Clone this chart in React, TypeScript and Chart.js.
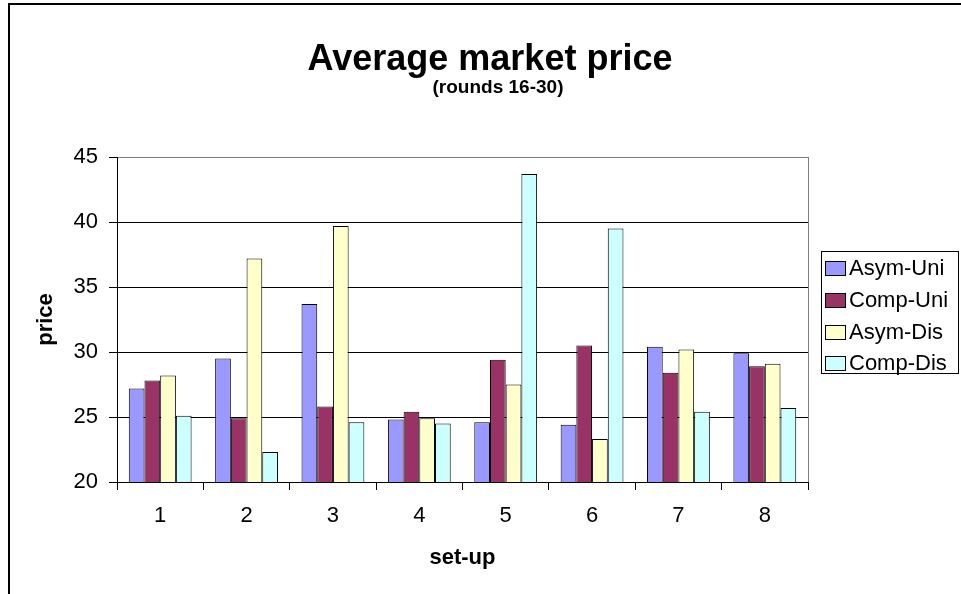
import { useEffect, useRef } from "react";
import { Chart, registerables } from "chart.js";

Chart.register(...registerables);

// Set-up numbers along the x axis
const setups = ["1", "2", "3", "4", "5", "6", "7", "8"];

// Average market price per treatment (rounds 16-30)
const asymUni = [27.2, 29.5, 33.7, 24.8, 24.6, 24.4, 30.4, 29.9];
const compUni = [27.8, 24.9, 25.8, 25.4, 29.4, 30.5, 28.4, 28.9];
const asymDis = [28.2, 37.2, 39.7, 24.9, 27.5, 23.3, 30.2, 29.1];
const compDis = [25.1, 22.3, 24.6, 24.5, 43.7, 39.5, 25.4, 25.7];

// Price axis tick values
const priceTicks = [20, 25, 30, 35, 40, 45];

const seriesNames = ["Asym-Uni", "Comp-Uni", "Asym-Dis", "Comp-Dis"];
const seriesColors = ["#9999FF", "#993366", "#FFFFCC", "#CCFFFF"];

const FONT = '"Liberation Sans", Arial, Helvetica, sans-serif';

// Frame, titles and boxed legend drawn around the plot
const framePlugin = {
  id: "frame",
  beforeDraw(chart: any) {
    const { ctx, width, height } = chart;
    ctx.save();
    ctx.fillStyle = "#ffffff";
    ctx.fillRect(0, 0, width, height);
    ctx.strokeStyle = "#000000";
    ctx.lineWidth = 2;
    ctx.beginPath();
    ctx.moveTo(9, height + 2);
    ctx.lineTo(9, 4);
    ctx.lineTo(width + 2, 4);
    ctx.stroke();
    ctx.restore();
  },
  beforeDatasetsDraw(chart: any) {
    const { ctx, chartArea } = chart;
    ctx.save();
    ctx.strokeStyle = "#808080";
    ctx.lineWidth = 1;
    ctx.beginPath();
    const x = Math.round(chartArea.right) + 0.5;
    ctx.moveTo(x, chartArea.top);
    ctx.lineTo(x, chartArea.bottom);
    ctx.stroke();
    ctx.restore();
  },
  afterDraw(chart: any) {
    const { ctx } = chart;
    ctx.save();
    ctx.fillStyle = "#000000";
    ctx.textAlign = "center";
    ctx.textBaseline = "alphabetic";
    ctx.font = `bold 36px ${FONT}`;
    ctx.fillText("Average market price", 490, 70);
    ctx.font = `bold 19px ${FONT}`;
    ctx.fillText("(rounds 16-30)", 498, 93);

    // legend box
    const boxL = 821, boxT = 251, boxW = 137, boxH = 122;
    ctx.strokeStyle = "#000000";
    ctx.lineWidth = 1;
    ctx.strokeRect(boxL + 0.5, boxT + 0.5, boxW, boxH);
    ctx.textAlign = "left";
    ctx.textBaseline = "middle";
    ctx.font = `22px ${FONT}`;
    chart.data.datasets.forEach((ds: any, i: number) => {
      const cy = 268 + i * 31.8;
      ctx.fillStyle = ds.backgroundColor;
      ctx.fillRect(825, Math.round(cy - 7), 20, 14);
      ctx.strokeRect(825.5, Math.round(cy - 7) + 0.5, 20, 14);
      ctx.fillStyle = "#000000";
      ctx.fillText(ds.label, 849, cy + 1);
    });
    ctx.restore();
  },
};

export default function App() {
  const canvasRef = useRef<HTMLCanvasElement | null>(null);

  useEffect(() => {
    const canvas = canvasRef.current;
    if (!canvas) return;
    const seriesValues = [asymUni, compUni, asymDis, compDis];
    const chart = new Chart(canvas, {
      type: "bar",
      data: {
        labels: setups,
        datasets: seriesValues.map((values, i) => ({
          label: seriesNames[i],
          data: values,
          backgroundColor: seriesColors[i],
          borderColor: "#000000",
          borderWidth: 1,
          categoryPercentage: 4 / 5.5,
          barPercentage: 1,
        })),
      },
      options: {
        responsive: false,
        animation: false,
        devicePixelRatio: 1,
        layout: { padding: { top: 157, right: 153, left: 0, bottom: 0 } },
        plugins: {
          legend: { display: false },
          title: { display: false },
          tooltip: { enabled: false },
        },
        scales: {
          x: {
            afterFit(scale: any) {
              scale.height = 112;
            },
            grid: {
              display: true,
              offset: true,
              drawOnChartArea: false,
              drawTicks: true,
              tickLength: 8,
              color: "#000000",
            },
            border: { display: true, color: "#000000", width: 1 },
            ticks: {
              color: "#000000",
              font: { family: FONT, size: 22 },
              padding: 13,
              maxRotation: 0,
            },
            title: {
              display: true,
              text: "set-up",
              color: "#000000",
              font: { family: FONT, size: 22, weight: "bold" },
              padding: { top: 0, bottom: 23 },
            },
          },
          y: {
            min: 20,
            max: 45,
            afterFit(scale: any) {
              scale.width = 117;
            },
            afterBuildTicks(scale: any) {
              scale.ticks = priceTicks.map((v) => ({ value: v }));
            },
            grid: {
              color: (c: any) => (c.tick && c.tick.value === 45 ? "#808080" : "#000000"),
              lineWidth: 1,
              drawTicks: true,
              tickLength: 8,
              tickColor: "#000000",
            },
            border: { display: true, color: "#000000", width: 1 },
            ticks: {
              color: "#000000",
              font: { family: FONT, size: 22 },
              padding: 11,
            },
            title: {
              display: true,
              text: "price",
              color: "#000000",
              font: { family: FONT, size: 22, weight: "bold" },
              padding: { top: 33, bottom: 0 },
            },
          },
        },
      },
      plugins: [framePlugin],
    });
    return () => chart.destroy();
  }, []);

  return (
    <div style={{ position: "absolute", left: 0, top: 0, width: 961, height: 594 }}>
      <canvas
        ref={canvasRef}
        width={961}
        height={594}
        style={{ display: "block", width: 961, height: 594 }}
      />
    </div>
  );
}
